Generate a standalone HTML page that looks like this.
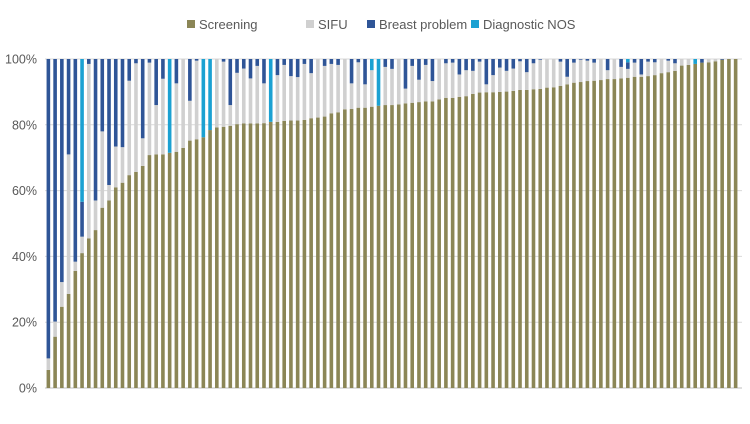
<!DOCTYPE html>
<html><head><meta charset="utf-8"><style>
body{margin:0;background:#fff;width:750px;height:419px;overflow:hidden;font-family:"Liberation Sans",sans-serif}
svg text{font-family:"Liberation Sans",sans-serif;fill:#595959}
</style></head><body>
<svg id="chart" width="750" height="419" viewBox="0 0 750 419" xmlns="http://www.w3.org/2000/svg">
<g id="legend">
<g><rect x="187" y="20" width="8" height="8" fill="#8B8656"/><text x="199" y="29" font-size="13">Screening</text></g>
<g><rect x="306" y="20" width="8" height="8" fill="#D0D0D0"/><text x="318" y="29" font-size="13">SIFU</text></g>
<g><rect x="367" y="20" width="8" height="8" fill="#2F5597"/><text x="379" y="29" font-size="13">Breast problem</text></g>
<g><rect x="471" y="20" width="8" height="8" fill="#1BA1D2"/><text x="483" y="29" font-size="13">Diagnostic NOS</text></g>
</g>
<g id="grid"></g>
<g id="yaxis"></g>
<g id="bars"></g>
</svg>
<script>
const screening=[5.5,15.6,24.7,28.6,35.6,41,45.5,48,54.8,57,61,62.4,64.7,65.7,67.5,70.8,71,71,71.5,71.8,73,75.2,75.6,76.2,78.4,79.2,79.4,79.7,80.2,80.4,80.4,80.4,80.5,80.9,80.9,81.2,81.3,81.3,81.5,82,82.2,82.5,83.5,83.8,84.7,84.8,85.2,85.2,85.5,85.8,86,86,86.2,86.5,86.7,86.9,87.1,87.1,87.7,88.2,88.2,88.5,88.7,89.4,89.8,89.9,89.9,90,90.1,90.3,90.6,90.6,90.8,90.9,91.3,91.4,91.8,92.3,92.8,93,93.3,93.4,93.6,93.9,93.9,94.1,94.3,94.6,94.6,94.8,95.1,95.7,96,96.4,98,98.2,98.5,98.9,99,99.3,99.8,100,100];
const sifu=[3.5,4.6,7.5,42.4,2.8,5,53,9,23.2,4.7,12.4,10.8,28.7,33,8.4,28.1,15,23,0,20.8,27,12.1,23.9,0,0,20.8,19.8,6.3,15.6,16.7,13.7,17.5,12.1,0,14.2,17,13.5,13.2,17,13.7,17.8,15.4,15,14.4,15.3,7.8,13.8,7.1,11.1,0,11.6,11,13.8,4.5,11.2,6.8,11.1,6.2,12.3,10.5,10.7,6.8,7.9,7,9.4,2.4,5.2,7.4,6.3,6.8,8.7,5.4,7.9,8.9,8.7,8.6,7.4,2.3,6.1,6.8,6.2,5.5,6.4,2.7,6.1,3.5,2.7,4.3,0.7,4.4,3.9,4.3,3.5,2.3,2,1.8,0,0,1,0.7,0,0,0];
const breast=[91,79.8,67.8,29,61.6,10.6,1.5,43,22,38.3,26.6,26.8,6.6,1.3,24.1,1.1,14,6,0,7.4,0,12.7,0.5,0,0,0,0.8,14,4.2,2.9,5.9,2.1,7.4,0,4.9,1.8,5.2,5.5,1.5,4.3,0,2.1,1.5,1.8,0,7.4,1,7.7,0,0,2.4,3,0,9,2.1,6.3,1.8,6.7,0,1.3,1.1,4.7,3.4,3.6,0.8,7.7,4.9,2.6,3.6,2.9,0.7,4,1.3,0.2,0,0,0.8,5.4,1.1,0.2,0.5,1.1,0,3.4,0,2.4,2,1.1,4.7,0.8,1,0,0.5,1.3,0,0,0,1.1,0,0,0.2,0,0];
const diagnostic=[0,0,0,0,0,43.4,0,0,0,0,0,0,0,0,0,0,0,0,28.5,0,0,0,0,23.8,21.6,0,0,0,0,0,0,0,0,19.1,0,0,0,0,0,0,0,0,0,0,0,0,0,0,3.4,14.2,0,0,0,0,0,0,0,0,0,0,0,0,0,0,0,0,0,0,0,0,0,0,0,0,0,0,0,0,0,0,0,0,0,0,0,0,1,0,0,0,0,0,0,0,0,0,1.5,0,0,0,0,0,0];
const yTicks=[0,20,40,60,80,100];
const NS="http://www.w3.org/2000/svg";
const plotL=45,plotR=742,plotT=59,plotB=388;
const nBars=screening.length,pitch=(plotR-plotL-3)/nBars;
function yScale(v){return plotB-(plotB-plotT)*v/100;}
function xScale(i){return plotL+(i+0.5)*pitch;}
const gridG=document.getElementById('grid'),yaxisG=document.getElementById('yaxis'),barsG=document.getElementById('bars');
yTicks.forEach(t=>{
 const l=document.createElementNS(NS,'line');
 l.setAttribute('x1',plotL);l.setAttribute('x2',plotR);l.setAttribute('y1',yScale(t));l.setAttribute('y2',yScale(t));
 l.setAttribute('stroke',t===0?'#bfbfbf':'#d9d9d9');l.setAttribute('stroke-width','1');
 
 
 gridG.appendChild(l);
 const tx=document.createElementNS(NS,'text');
 tx.setAttribute('x',37);tx.setAttribute('y',yScale(t)+4.5);tx.setAttribute('text-anchor','end');tx.setAttribute('font-size','12.5');
 tx.textContent=t+'%';
 
 
 yaxisG.appendChild(tx);
});
const series=[[screening,'#8B8656','screening'],[sifu,'#D0D0D0','sifu'],[breast,'#2F5597','breast-problem'],[diagnostic,'#1BA1D2','diagnostic-nos']];
for(let i=0;i<nBars;i++){
 let cum=0;
 series.forEach(([arr,col,nm])=>{
  const v=arr[i];
  if(v>0){
   const r=document.createElementNS(NS,'rect');
   r.setAttribute('x',xScale(i)-1.8);r.setAttribute('width',3.6);
   r.setAttribute('y',yScale(cum+v));r.setAttribute('height',yScale(cum)-yScale(cum+v));
   r.setAttribute('fill',col);
   
   
   barsG.appendChild(r);
  }
  cum+=v;
 });
}
</script>
</body></html>
